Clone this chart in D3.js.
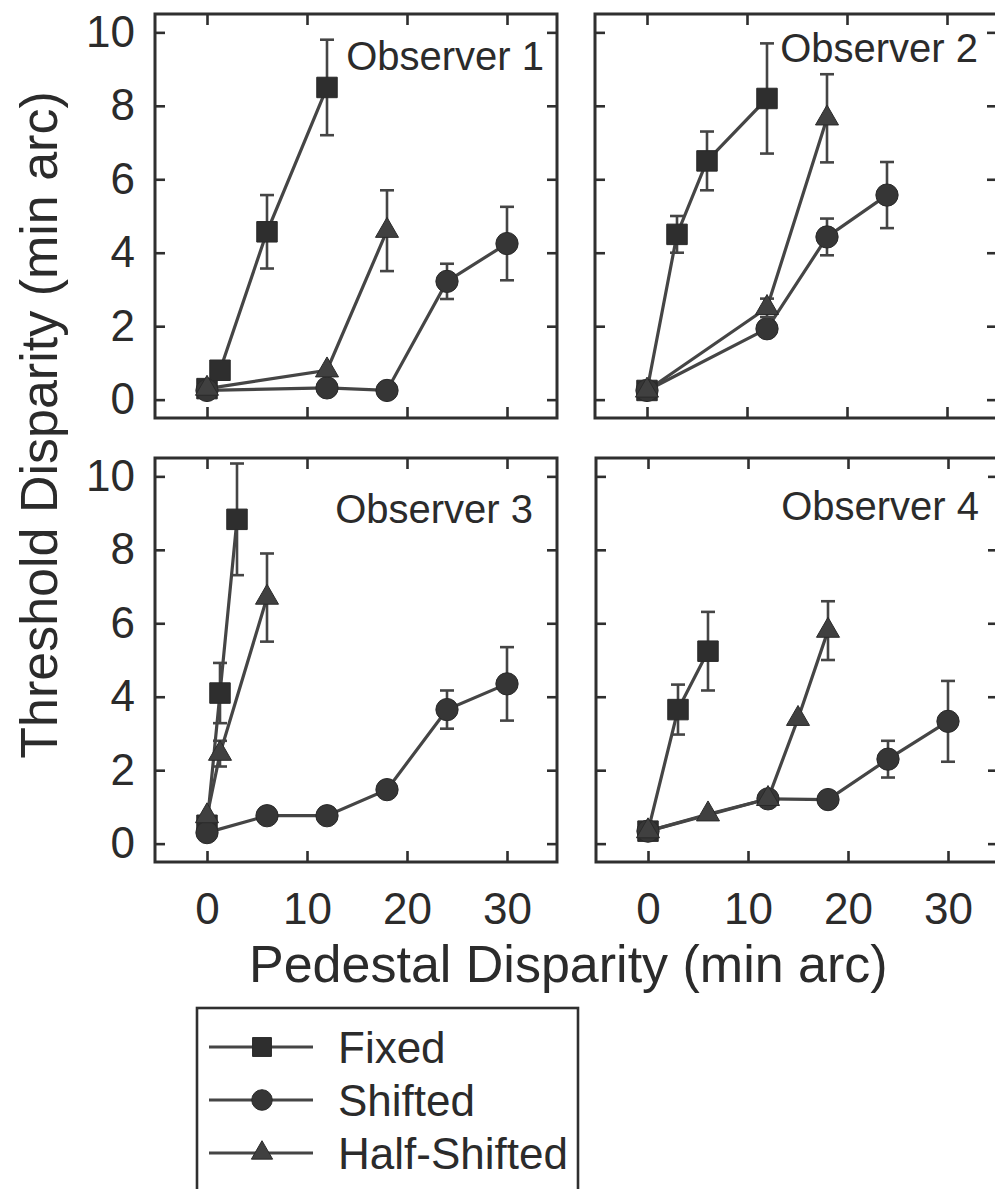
<!DOCTYPE html>
<html>
<head>
<meta charset="utf-8">
<script src="https://cdn.jsdelivr.net/npm/d3@7"></script>
<style>
  body { margin: 0; background: #fff; }
  text { font-family: "Liberation Sans", Arial, sans-serif; fill: #2b2b2b; }
</style>
</head>
<body>
<div id="chart"></div>
<script>
// threshold vs pedestal disparity, four observers, three conditions
// each point: [pedestal, threshold, error]
var observerNames = ["Observer 1", "Observer 2", "Observer 3", "Observer 4"];
var conditions = ["Fixed", "Shifted", "Half-Shifted"];
var xTicks = [0, 10, 20, 30];
var yTicks = [0, 2, 4, 6, 8, 10];

var observer1 = [
  [[0, 0.3, 0], [1.3, 0.8, 0], [6, 4.57, 1.0], [12, 8.5, 1.3]],
  [[0, 0.25, 0], [12, 0.32, 0], [18, 0.25, 0], [24, 3.22, 0.48], [30, 4.25, 1.0]],
  [[0, 0.3, 0], [12, 0.8, 0], [18, 4.6, 1.1]]
];
var observer2 = [
  [[0, 0.25, 0], [3, 4.5, 0.5], [6, 6.5, 0.8], [12, 8.2, 1.5]],
  [[0, 0.25, 0], [12, 1.93, 0], [18, 4.43, 0.5], [24, 5.57, 0.9]],
  [[0, 0.25, 0], [12, 2.5, 0.25], [18, 7.66, 1.2]]
];
var observer3 = [
  [[0, 0.5, 0], [1.3, 4.1, 0.82], [3, 8.83, 1.52]],
  [[0, 0.3, 0], [6, 0.76, 0], [12, 0.76, 0], [18, 1.47, 0], [24, 3.65, 0.52], [30, 4.35, 1.0]],
  [[0, 0.75, 0], [1.3, 2.45, 0.35], [6, 6.7, 1.2]]
];
var observer4 = [
  [[0, 0.34, 0], [3, 3.65, 0.68], [6, 5.24, 1.07]],
  [[0, 0.34, 0], [12, 1.22, 0], [18, 1.2, 0], [24, 2.3, 0.5], [30, 3.33, 1.1]],
  [[0, 0.34, 0], [6, 0.8, 0], [12, 1.22, 0], [15, 3.4, 0], [18, 5.8, 0.8]]
];
var observerData = [observer1, observer2, observer3, observer4];

// page layout
var width = 995, height = 1189;
var panelW = 402, panelH = 404;
var panels = [
  {left: 155, top: 14, labelX: 389, labelY: 56, yLabels: true, xLabels: false},
  {left: 595, top: 14, labelX: 383, labelY: 48, yLabels: false, xLabels: false},
  {left: 155, top: 458, labelX: 378, labelY: 65, yLabels: true, xLabels: true},
  {left: 596, top: 458, labelX: 383, labelY: 62, yLabels: false, xLabels: true}
];

var symbols = [d3.symbolSquare, d3.symbolCircle, d3.symbolTriangle];
var symbolSizes = [420, 390, 230];
var markerFill = ["#2e2e2e", "#363636", "#404040"];
var lineColor = "#454545";
var frameColor = "#2f2f2f";

var x = d3.scaleLinear().domain([-5.2, 35]).range([0, panelW]);
var y = d3.scaleLinear().domain([-0.5, 10.5]).range([panelH, 0]);

var valueline = d3.line()
  .x(function(d) { return x(d[0]); })
  .y(function(d) { return y(d[1]); });

var svg = d3.select("#chart")
  .append("svg")
  .attr("width", width)
  .attr("height", height);

svg.append("rect")
  .attr("width", width)
  .attr("height", height)
  .attr("fill", "#fff");

panels.forEach(function(p, i) {
  var g = svg.append("g")
    .attr("transform", "translate(" + p.left + "," + p.top + ")");

  // ticks on all four sides, pointing in
  var bottom = g.append("g")
    .attr("transform", "translate(0," + panelH + ")")
    .call(d3.axisBottom(x).tickValues(xTicks).tickSize(-11).tickPadding(31)
      .tickFormat(p.xLabels ? d3.format("d") : function() { return ""; }));
  var top = g.append("g")
    .call(d3.axisTop(x).tickValues(xTicks).tickSize(-11).tickFormat(function() { return ""; }));
  var left = g.append("g")
    .call(d3.axisLeft(y).tickValues(yTicks).tickSize(-10).tickPadding(20)
      .tickFormat(p.yLabels ? d3.format("d") : function() { return ""; }));
  var right = g.append("g")
    .attr("transform", "translate(" + panelW + ",0)")
    .call(d3.axisRight(y).tickValues(yTicks).tickSize(-10).tickFormat(function() { return ""; }));

  [bottom, top, left, right].forEach(function(a) {
    a.select(".domain").remove();
    a.selectAll(".tick line").attr("stroke", frameColor).attr("stroke-width", 2.6);
    a.attr("font-size", 44).attr("font-family", null);
  });

  g.append("rect")
    .attr("width", panelW)
    .attr("height", panelH)
    .attr("fill", "none")
    .attr("stroke", frameColor)
    .attr("stroke-width", 3);

  var series = observerData[i];

  // connecting lines
  g.selectAll(".line")
    .data(series)
    .enter().append("path")
    .attr("class", "line")
    .attr("d", valueline)
    .attr("fill", "none")
    .attr("stroke", lineColor)
    .attr("stroke-width", 3.2);

  series.forEach(function(s, k) {
    var withErr = s.filter(function(d) { return d[2] > 0; });
    var eb = g.selectAll(".err" + k)
      .data(withErr)
      .enter().append("g")
      .attr("class", "err" + k)
      .attr("stroke", lineColor)
      .attr("stroke-width", 2.6);
    eb.append("line")
      .attr("x1", function(d) { return x(d[0]); })
      .attr("x2", function(d) { return x(d[0]); })
      .attr("y1", function(d) { return y(d[1] + d[2]); })
      .attr("y2", function(d) { return y(d[1] - d[2]); });
    eb.append("line")
      .attr("x1", function(d) { return x(d[0]) - 7; })
      .attr("x2", function(d) { return x(d[0]) + 7; })
      .attr("y1", function(d) { return y(d[1] + d[2]); })
      .attr("y2", function(d) { return y(d[1] + d[2]); });
    eb.append("line")
      .attr("x1", function(d) { return x(d[0]) - 7; })
      .attr("x2", function(d) { return x(d[0]) + 7; })
      .attr("y1", function(d) { return y(d[1] - d[2]); })
      .attr("y2", function(d) { return y(d[1] - d[2]); });

    g.selectAll(".mark" + k)
      .data(s)
      .enter().append("path")
      .attr("class", "mark" + k)
      .attr("d", d3.symbol().type(symbols[k]).size(symbolSizes[k]))
      .attr("transform", function(d) { return "translate(" + x(d[0]) + "," + y(d[1]) + ")"; })
      .attr("fill", markerFill[k])
      .attr("stroke", "#2a2a2a")
      .attr("stroke-width", 1);
  });

  g.append("text")
    .attr("x", p.labelX)
    .attr("y", p.labelY)
    .attr("text-anchor", "end")
    .attr("font-size", 40)
    .text(observerNames[i]);
});

// axis titles
svg.append("text")
  .attr("transform", "translate(57,425) rotate(-90)")
  .attr("text-anchor", "middle")
  .attr("font-size", 52)
  .text("Threshold Disparity (min arc)");

svg.append("text")
  .attr("x", 249)
  .attr("y", 982)
  .attr("font-size", 52)
  .text("Pedestal Disparity (min arc)");

// legend, its lower edge runs off the page
var legend = svg.append("g").attr("transform", "translate(197,1008)");
legend.append("rect")
  .attr("width", 381)
  .attr("height", 220)
  .attr("fill", "none")
  .attr("stroke", frameColor)
  .attr("stroke-width", 2.6);

var item = legend.selectAll(".item")
  .data(conditions)
  .enter().append("g")
  .attr("class", "item")
  .attr("transform", function(d, i) { return "translate(0," + (39 + i * 53) + ")"; });
item.append("line")
  .attr("x1", 12).attr("x2", 116)
  .attr("stroke", lineColor)
  .attr("stroke-width", 3);
item.append("path")
  .attr("d", function(d, i) { return d3.symbol().type(symbols[i]).size(symbolSizes[i] * 0.85)(); })
  .attr("transform", "translate(65,0)")
  .attr("fill", function(d, i) { return markerFill[i]; })
  .attr("stroke", "#2a2a2a")
  .attr("stroke-width", 1);
item.append("text")
  .attr("x", 141)
  .attr("dy", "0.36em")
  .attr("font-size", 44)
  .text(function(d) { return d; });
</script>
</body>
</html>
